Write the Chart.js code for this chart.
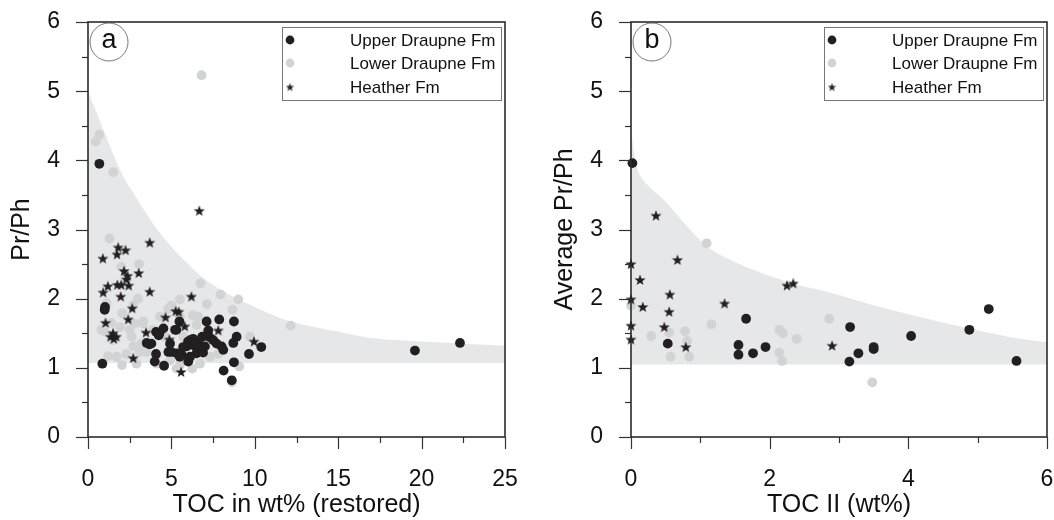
<!DOCTYPE html>
<html><head><meta charset="utf-8">
<script src="https://cdn.jsdelivr.net/npm/chart.js@4.4.1/dist/chart.umd.min.js"></script>
<style>
html,body{margin:0;padding:0;background:#fff;}
#wrap{position:relative;width:1054px;height:520px;overflow:hidden;}
.box{position:absolute;top:0;width:527px;height:520px;}
</style></head><body>
<div id="wrap">
<div class="box" style="left:0"><canvas id="ca" width="527" height="520"></canvas></div>
<div class="box" style="left:527px"><canvas id="cb" width="527" height="520"></canvas></div>
</div>
<script>
// ---------- DATA ----------
const seriesNames = ['Upper Draupne Fm', 'Lower Draupne Fm', 'Heather Fm'];
const panelLabels = ['a', 'b'];
const xTitles = ['TOC in wt% (restored)', 'TOC II (wt%)'];
const yTitles = ['Pr/Ph', 'Average Pr/Ph'];

// Panel a
const upperA = [[0.68,3.95],[1.02,1.88],[1.0,1.84],[0.86,1.06],[3.52,1.36],[3.68,1.34],[3.80,1.35],[4.08,1.52],[4.28,1.50],[4.52,1.57],[4.24,1.47],[4.08,1.20],[4.0,1.09],[4.56,1.03],[4.82,1.23],[4.92,1.35],[5.0,1.23],[5.22,1.55],[5.48,1.67],[5.30,1.55],[5.32,1.21],[5.62,1.19],[5.50,1.16],[6.01,1.09],[6.12,1.40],[6.0,1.38],[6.22,1.35],[6.42,1.31],[6.51,1.21],[6.12,1.16],[5.92,1.31],[6.61,1.38],[6.71,1.28],[7.01,1.31],[7.11,1.67],[7.21,1.54],[7.87,1.70],[7.51,1.40],[7.71,1.35],[8.01,1.31],[8.11,1.26],[8.75,1.67],[8.91,1.45],[8.71,1.36],[8.75,1.08],[8.13,0.96],[8.62,0.82],[9.65,1.20],[10.39,1.30],[6.3,1.42],[6.85,1.45],[7.3,1.44],[5.7,1.30],[6.9,1.22],[19.6,1.25],[22.3,1.36]];
const lowerA = [[6.81,5.23],[0.68,4.37],[0.46,4.27],[1.52,3.83],[1.29,2.87],[2.0,2.46],[3.06,2.50],[6.74,2.22],[7.95,2.06],[9.01,1.99],[7.13,1.92],[5.51,1.99],[8.66,1.84],[12.15,1.61],[1.12,1.93],[2.72,1.91],[2.06,1.79],[3.32,1.67],[1.92,1.59],[1.02,1.52],[2.62,1.45],[2.72,1.31],[1.21,1.17],[1.72,1.16],[2.04,1.04],[2.91,1.06],[3.52,1.23],[4.32,1.74],[5.52,1.74],[6.27,1.76],[6.61,1.74],[6.51,1.62],[5.71,1.45],[6.71,1.06],[6.25,0.99],[5.30,0.99],[7.31,1.16],[9.07,1.02],[8.63,0.79],[9.71,1.45],[4.12,1.06],[5.52,1.04],[4.92,1.11],[2.80,1.64],[3.30,1.64],[0.80,1.55],[3.20,1.35],[3.10,1.23],[1.5,1.40],[2.3,1.20],[5.0,1.90],[4.8,1.85],[3.0,2.0],[2.5,1.55],[1.4,1.65],[3.9,1.55],[4.6,1.45],[7.8,1.20]];
const heatherA = [[6.67,3.27],[3.70,2.81],[1.81,2.74],[2.25,2.70],[1.74,2.64],[0.89,2.58],[2.16,2.40],[2.37,2.33],[3.04,2.37],[2.30,2.28],[1.19,2.18],[0.91,2.09],[1.76,2.20],[1.99,2.20],[2.44,2.19],[1.96,2.03],[3.70,2.10],[6.20,2.03],[2.65,1.86],[5.26,1.82],[5.44,1.81],[1.05,1.65],[2.41,1.70],[4.65,1.73],[5.80,1.60],[3.48,1.51],[1.35,1.45],[1.55,1.42],[1.70,1.45],[1.50,1.50],[4.88,1.41],[2.71,1.14],[5.58,0.94],[9.95,1.38],[7.81,1.54]];
const envelopeA = [[0,5.0],[1,4.4],[2,3.82],[3,3.42],[4,3.05],[5,2.75],[6,2.5],[7,2.28],[8,2.12],[9,1.99],[10,1.88],[12,1.68],[15,1.52],[17,1.43],[20,1.38],[25,1.32]];
const baseA = 1.07;

// Panel b
const upperB = [[0.02,3.96],[1.66,1.71],[0.53,1.35],[1.55,1.33],[1.55,1.19],[1.76,1.21],[1.94,1.30],[3.16,1.59],[3.28,1.21],[3.15,1.09],[3.50,1.30],[3.50,1.27],[4.04,1.46],[4.88,1.55],[5.16,1.85],[5.56,1.10]];
const lowerB = [[0.0,1.90],[0.29,1.46],[0.55,1.51],[0.57,1.16],[0.78,1.53],[0.81,1.39],[0.84,1.16],[1.09,2.80],[1.16,1.63],[2.14,1.55],[2.19,1.50],[2.39,1.42],[2.14,1.22],[2.18,1.10],[2.86,1.71],[3.48,0.79]];
const heatherB = [[0.36,3.20],[0.0,2.50],[0.13,2.27],[0.67,2.56],[0.56,2.06],[0.0,1.99],[0.17,1.88],[0.55,1.81],[1.35,1.93],[0.0,1.61],[0.48,1.59],[0.0,1.41],[0.79,1.30],[2.25,2.19],[2.34,2.22],[2.90,1.32]];
const envelopeB = [[0,4.41],[0.13,3.78],[0.5,3.4],[0.85,3.0],[1.14,2.72],[1.52,2.52],[2.0,2.33],[2.4,2.2],[2.86,2.09],[3.63,1.87],[4.83,1.58],[5.5,1.44],[6,1.37]];
const baseB = 1.05;

const xRanges = [[0,25],[0,6]];
const xSteps = [5,2];
const xMinor = [2.5,1];
const yRange = [0,6];

// ---------- STYLE ----------
const BLACK = '#231f20', GRAY = '#d1d3d4', SHADE = '#e6e7e8';
const FONT = "'Liberation Sans', Arial, sans-serif";

function starImg(size){
  const c = document.createElement('canvas');
  c.width = size; c.height = size;
  const g = c.getContext('2d');
  const cx = size/2, cy = size/2 + 0.4, R = size/2 - 0.2, r = R*0.42;
  g.beginPath();
  for (let i=0;i<10;i++){
    const ang = -Math.PI/2 + i*Math.PI/5;
    const rad = i%2===0 ? R : r;
    const px = cx + rad*Math.cos(ang), py = cy + rad*Math.sin(ang);
    if(i===0) g.moveTo(px,py); else g.lineTo(px,py);
  }
  g.closePath(); g.fillStyle = BLACK; g.fill();
  return c;
}
const STAR = starImg(12);
const STAR_SMALL = starImg(9);

const toXY = arr => arr.map(p => ({x:p[0], y:p[1]}));

const deco = {
  id: 'deco',
  afterDraw(chart, args, o) {
    const {ctx, chartArea: a, scales: {x, y}} = chart;
    ctx.save();
    ctx.strokeStyle = '#333'; ctx.lineWidth = 1.2;
    for (let v = y.min; v <= y.max + 1e-9; v += 0.5) {
      const p = Math.round(y.getPixelForValue(v)) + 0.5;
      const major = Math.abs(v - Math.round(v)) < 1e-6;
      ctx.beginPath(); ctx.moveTo(a.left, p); ctx.lineTo(a.left - (major ? 12 : 6), p); ctx.stroke();
    }
    for (let v = x.min; v <= x.max + 1e-9; v += o.xMinor) {
      const p = Math.round(x.getPixelForValue(v)) + 0.5;
      const major = Math.abs(v/o.xMajor - Math.round(v/o.xMajor)) < 1e-6;
      ctx.beginPath(); ctx.moveTo(p, a.bottom); ctx.lineTo(p, a.bottom + (major ? 12 : 6)); ctx.stroke();
    }
    ctx.strokeStyle = '#2b2b2b'; ctx.lineWidth = 1.6;
    ctx.strokeRect(a.left, a.top, a.right - a.left, a.bottom - a.top);
    ctx.lineWidth = 0.8; ctx.strokeStyle = '#555';
    ctx.beginPath(); ctx.arc(a.left + 21, a.top + 20, 19, 0, Math.PI*2); ctx.stroke();
    ctx.fillStyle = '#111'; ctx.font = '27px ' + FONT; ctx.textAlign = 'center'; ctx.textBaseline = 'middle';
    ctx.fillText(o.label, a.left + 21, a.top + 19);
    const bw = 219, bh = 73, bx = a.right - 4 - bw, by = a.top + 5;
    ctx.fillStyle = '#fff'; ctx.fillRect(bx, by, bw, bh);
    ctx.strokeStyle = '#777'; ctx.lineWidth = 1; ctx.strokeRect(bx + 0.5, by + 0.5, bw, bh);
    const rows = [13, 36, 60];
    ctx.font = '17px ' + FONT; ctx.textAlign = 'left'; ctx.textBaseline = 'middle';
    seriesNames.forEach((n, i) => {
      const my = by + rows[i], mx = bx + 8;
      if (i < 2) { ctx.fillStyle = i === 0 ? BLACK : GRAY; ctx.beginPath(); ctx.arc(mx, my, 4.4, 0, Math.PI*2); ctx.fill(); }
      else ctx.drawImage(STAR_SMALL, mx - 4.5, my - 4.5);
      ctx.fillStyle = '#111'; ctx.fillText(n, bx + 68, my + 1);
    });
    ctx.restore();
  }
};

function makeChart(id, k, upper, lower, heather, env, base, leftW, padTitle, padRight) {
  return new Chart(document.getElementById(id), {
    type: 'scatter',
    data: { datasets: [
      { type: 'line', data: toXY(env), fill: {value: base}, backgroundColor: SHADE, borderWidth: 0, pointRadius: 0, tension: 0.3, order: 10 },
      { data: toXY(lower), backgroundColor: GRAY, borderWidth: 0, pointRadius: 4.9, order: 3, clip: false },
      { data: toXY(upper), backgroundColor: BLACK, borderWidth: 0, pointRadius: 4.9, order: 2, clip: false },
      { data: toXY(heather), pointStyle: STAR, pointRadius: 6, order: 1, clip: false }
    ]},
    options: {
      responsive: false, animation: false, devicePixelRatio: 1,
      layout: { padding: { left: 0, top: 22, right: padRight, bottom: 0 } },
      plugins: { legend: { display: false }, tooltip: { enabled: false },
        deco: { label: panelLabels[k], xMajor: xSteps[k], xMinor: xMinor[k] } },
      scales: {
        x: { type: 'linear', min: xRanges[k][0], max: xRanges[k][1],
          ticks: { stepSize: xSteps[k], color: '#111', font: { family: FONT, size: 23 }, padding: 29 },
          grid: { display: false, drawTicks: false }, border: { display: false },
          title: { display: true, text: xTitles[k], color: '#111', font: { family: FONT, size: 25 }, padding: { top: 0, bottom: 0 } },
          afterFit: s => { s.height = 83; s.paddingLeft = 0; s.paddingRight = 0; } },
        y: { type: 'linear', min: yRange[0], max: yRange[1],
          ticks: { stepSize: 1, color: '#111', font: { family: FONT, size: 23 }, padding: 28 },
          grid: { display: false, drawTicks: false }, border: { display: false },
          title: { display: true, text: yTitles[k], color: '#111', font: { family: FONT, size: 25 }, padding: { top: padTitle, bottom: 0 } },
          afterFit: s => { s.width = leftW; s.paddingTop = 0; s.paddingBottom = 0; } }
      }
    },
    plugins: [deco]
  });
}

makeChart('ca', 0, upperA, lowerA, heatherA, envelopeA, baseA, 88, 7, 22);
makeChart('cb', 1, upperB, lowerB, heatherB, envelopeB, baseB, 104, 23, 6);
</script>
</body></html>
